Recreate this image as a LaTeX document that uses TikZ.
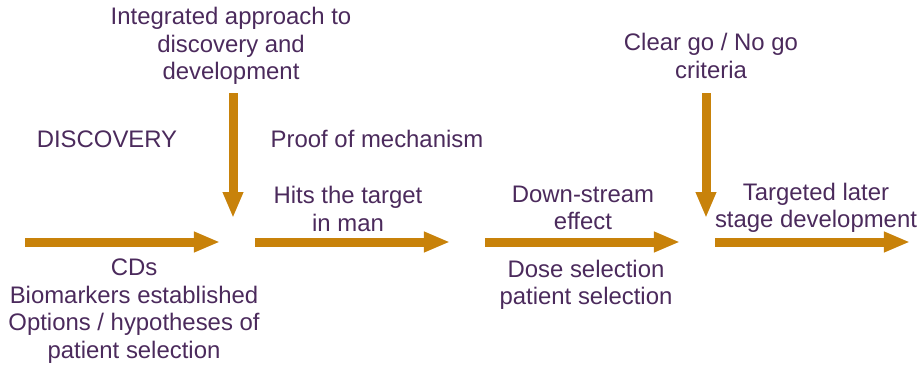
\documentclass[tikz,border=0pt]{standalone}
\usepackage{fontspec}
\setmainfont{Liberation Sans}
\usetikzlibrary{arrows.meta}
\definecolor{flowc}{RGB}{200,130,10}
\definecolor{textc}{RGB}{75,42,92}

\begin{document}
\begin{tikzpicture}
            [x=0.025cm, y=-0.025cm, inner sep=0pt,
             lbl/.style={text=textc, align=center, font=\fontsize{17}{19.6}\selectfont},
             flow/.style={draw=flowc, line width=0.225cm, -{Triangle[length=0.65cm, width=0.475cm]}}]
            \useasboundingbox (0,0) rectangle (923,371);
            \node[lbl] (integrated) at (231,46) {Integrated approach to\\discovery and\\development};
            \node[lbl] (discovery) at (107,139) {DISCOVERY};
            \node[lbl] (proof) at (377,139) {Proof of mechanism};
            \node[lbl] (hits) at (348,209) {Hits the target\\in man};
            \node[lbl] (downstream) at (583,208) {Down-stream\\effect};
            \node[lbl] (targeted) at (816,208) {Targeted later\\stage development};
            \node[lbl] (gonogo) at (711,56) {Clear go / No go\\criteria};
            \node[lbl] (cds) at (134,311) {CDs\\Biomarkers established\\Options / hypotheses of\\patient selection};
            \node[lbl] (dose) at (586,285) {Dose selection\\patient selection};

            \coordinate (s1) at (25,242);  \coordinate (e1) at (220,242);
            \coordinate (s2) at (255,242); \coordinate (e2) at (450,242);
            \coordinate (s3) at (485,242); \coordinate (e3) at (680,242);
            \coordinate (s4) at (715,242); \coordinate (e4) at (910,242);
            \coordinate (v1s) at (233,93); \coordinate (v1e) at (233,218);
            \coordinate (v2s) at (706,93); \coordinate (v2e) at (706,218);

            \draw [flow] (s1) -- (e1);
            \draw [flow] (s2) -- (e2);
            \draw [flow] (s3) -- (e3);
            \draw [flow] (s4) -- (e4);
            \draw [flow] (v1s) -- (v1e);
            \draw [flow] (v2s) -- (v2e);
\end{tikzpicture}
\end{document}
